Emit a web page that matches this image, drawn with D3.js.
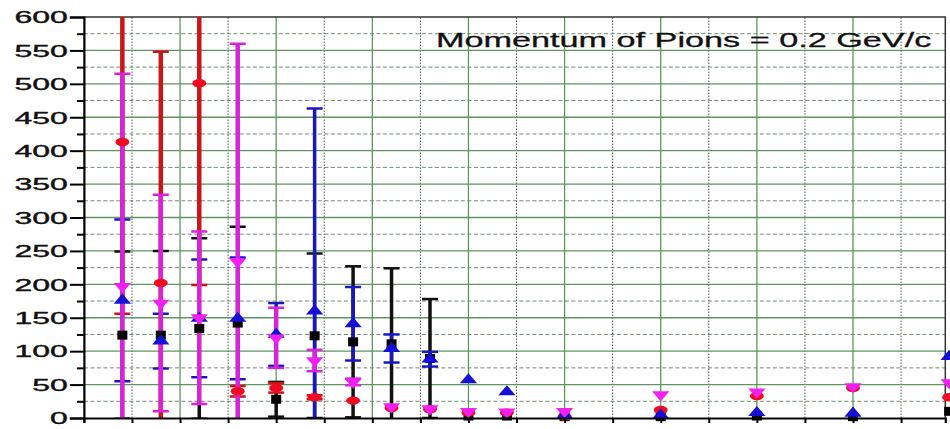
<!DOCTYPE html>
<html>
<head>
<meta charset="utf-8">
<script src="https://cdn.jsdelivr.net/npm/d3@7/dist/d3.min.js"></script>
<style>
  html, body { margin: 0; padding: 0; background: #fff; }
  svg { display: block; }
  text { font-family: "Liberation Sans", Arial, sans-serif; }
</style>
</head>
<body>
<svg id="chart" width="950" height="429"></svg>
<script>
// Emission angle (deg) of each measurement
const angles = [4, 8, 12, 16, 20, 24, 28, 32, 36, 40, 44, 50, 60, 70, 80, 90];

// Four data sets with their errors
const blackVals = [124, 124, 134, 142, 28, 123, 114, 111, 89, 3, 3, 2, 2, 3, 2, 10];
const blackErrs = [125, 126, 135, 144, 26, 123, 113, 113, 89, 0, 0, 0, 0, 0, 0, 0];

const redVals = [413, 202, 501, 40, 45, 31, 26, 15, 13, 8, 8, 2, 12, 33, 45, 31];
const redErrs = [257, 346, 302, 8, 7, 3, 0, 0, 0, 0, 0, 0, 0, 0, 0, 0];

const blueVals = [176, 115, 149, 149, 125, 160, 141, 104, 88, 57, 39, 4, 4, 8, 7, 92];
const blueErrs = [121, 41, 88, 91, 47, 303, 55, 21, 11, 0, 0, 0, 0, 0, 0, 0];

const magentaVals = [197, 172, 150, 234, 120, 86, 54, 17, 14, 10, 9, 10, 35, 39, 47, 53];
const magentaErrs = [318, 162, 129, 326, 45, 16, 5, 0, 0, 0, 0, 0, 0, 0, 0, 0];

const yMajorTicks = [0, 50, 100, 150, 200, 250, 300, 350, 400, 450, 500, 550, 600];
const yMinorTicks = [25, 75, 125, 175, 225, 275, 325, 375, 425, 475, 525, 575];
const xMajorTicks = [0, 10, 20, 30, 40, 50, 60, 70, 80];
const xMinorTicks = [5, 15, 25, 35, 45, 55, 65, 75, 85];

const titleText = "Momentum of Pions = 0.2 GeV/c";

const svg = d3.select("#chart");
const x = d3.scaleLinear().domain([0, 89.6]).range([83.9, 945.3]);
const y = d3.scaleLinear().domain([0, 600]).range([418, 17]);

const [xl, xr] = x.range();
const [yb, yt] = y.range();

// grid
const grid = svg.append("g");
grid.selectAll(".hmin").data(yMinorTicks).join("line")
  .attr("x1", xl).attr("x2", xr).attr("y1", d => y(d)).attr("y2", d => y(d))
  .attr("stroke", "#6f8c6f").attr("stroke-width", 1).attr("stroke-dasharray", "4,2.5");
grid.selectAll(".vmin").data(xMinorTicks).join("line")
  .attr("x1", d => x(d)).attr("x2", d => x(d)).attr("y1", yb).attr("y2", yt)
  .attr("stroke", "#555").attr("stroke-width", 1).attr("stroke-dasharray", "1.5,1.5");
grid.selectAll(".hmaj").data(yMajorTicks.filter(d => d > 0 && d < 600)).join("line")
  .attr("x1", xl).attr("x2", xr).attr("y1", d => y(d)).attr("y2", d => y(d))
  .attr("stroke", "#5f955f").attr("stroke-width", 1.3);
grid.selectAll(".vmaj").data(xMajorTicks.filter(d => d > 0)).join("line")
  .attr("x1", d => x(d)).attr("x2", d => x(d)).attr("y1", yb).attr("y2", yt)
  .attr("stroke", "#5f955f").attr("stroke-width", 1.3);

// frame (top / right)
svg.append("path")
  .attr("d", `M${xl},${yt}H${xr}V${yb}`)
  .attr("fill", "none").attr("stroke", "#333").attr("stroke-width", 1.5);

// title
svg.append("text")
  .attr("transform", "translate(436,47) scale(1.63,1)")
  .attr("font-size", 21).attr("fill", "#111")
  .attr("stroke", "#111").attr("stroke-width", 0.3)
  .text(titleText);

// error bars and markers
const series = [
  { vals: blackVals, errs: blackErrs, bar: "#111", mark: "#000", lw: 3.5, shape: "square" },
  { vals: redVals, errs: redErrs, bar: "#cc1518", mark: "#f00a22", lw: 4.5, shape: "circle" },
  { vals: blueVals, errs: blueErrs, bar: "#1a16c4", mark: "#1410d8", lw: 3.5, shape: "up" },
  { vals: magentaVals, errs: magentaErrs, bar: "#d823d8", mark: "#f21ff2", lw: 4.5, shape: "down" }
];

svg.append("clipPath").attr("id", "plotClip")
  .append("rect").attr("x", xl).attr("y", yt).attr("width", xr - xl).attr("height", yb - yt);

const bars = svg.append("g").attr("clip-path", "url(#plotClip)");
const capW = 8;
series.forEach(s => {
  const rows = angles.map((a, i) => ({ a, v: s.vals[i], e: s.errs[i] })).filter(r => r.e > 0);
  const g = bars.append("g").attr("stroke", s.bar);
  g.selectAll(".stem").data(rows).join("line")
    .attr("x1", r => x(r.a)).attr("x2", r => x(r.a))
    .attr("y1", r => y(r.v - r.e)).attr("y2", r => y(r.v + r.e))
    .attr("stroke-width", s.lw);
  g.selectAll(".capHi").data(rows).join("line")
    .attr("x1", r => x(r.a) - capW).attr("x2", r => x(r.a) + capW)
    .attr("y1", r => y(r.v + r.e)).attr("y2", r => y(r.v + r.e))
    .attr("stroke-width", 2.5);
  g.selectAll(".capLo").data(rows).join("line")
    .attr("x1", r => x(r.a) - capW).attr("x2", r => x(r.a) + capW)
    .attr("y1", r => y(r.v - r.e)).attr("y2", r => y(r.v - r.e))
    .attr("stroke-width", 2.5);
});

const triUp = d3.symbol().type(d3.symbolTriangle).size(66)();
const marks = svg.append("g");
series.forEach(s => {
  const rows = angles.map((a, i) => ({ a, v: s.vals[i] }));
  const g = marks.append("g").attr("fill", s.mark);
  const sel = g.selectAll("path").data(rows).join("path");
  if (s.shape === "square") {
    sel.attr("d", "M-5,-4.5H5V4.5H-5Z")
      .attr("transform", r => `translate(${x(r.a)},${y(r.v)})`);
  } else if (s.shape === "circle") {
    sel.attr("d", d3.symbol().type(d3.symbolCircle).size(50)())
      .attr("transform", r => `translate(${x(r.a)},${y(r.v)}) scale(1.75,1.05)`);
  } else if (s.shape === "up") {
    sel.attr("d", triUp)
      .attr("transform", r => `translate(${x(r.a)},${y(r.v)}) scale(1.4,0.95)`);
  } else {
    sel.attr("d", triUp)
      .attr("transform", r => `translate(${x(r.a)},${y(r.v)}) scale(1.4,-0.95)`);
  }
});

// axes
const yAxis = svg.append("g").attr("transform", `translate(${xl},0)`)
  .call(d3.axisLeft(y).tickValues(yMajorTicks).tickSize(14).tickPadding(2));
yAxis.select(".domain").attr("stroke", "#000").attr("stroke-width", 2.2);
yAxis.selectAll(".tick line").attr("stroke", "#000").attr("stroke-width", 2);
yAxis.selectAll(".tick text")
  .attr("font-size", 16).attr("font-family", "Liberation Sans, Arial, sans-serif")
  .attr("fill", "#111").attr("stroke", "#111").attr("stroke-width", 0.35)
  .attr("x", -8).attr("dy", "0.36em")
  .attr("transform", "scale(2,1)");

svg.append("g").attr("transform", `translate(${xl},0)`)
  .call(d3.axisLeft(y).tickValues(yMinorTicks).tickSize(7).tickFormat(""))
  .call(g => g.select(".domain").remove())
  .selectAll(".tick line").attr("stroke", "#000").attr("stroke-width", 2);

const xAxis = svg.append("g").attr("transform", `translate(0,${yb})`)
  .call(d3.axisBottom(x).tickValues(xMajorTicks.concat(xMinorTicks)).tickSize(5).tickFormat(""));
xAxis.select(".domain").attr("stroke", "#000").attr("stroke-width", 2.2);
xAxis.selectAll(".tick line").attr("stroke", "#000").attr("stroke-width", 2);
</script>
</body>
</html>
